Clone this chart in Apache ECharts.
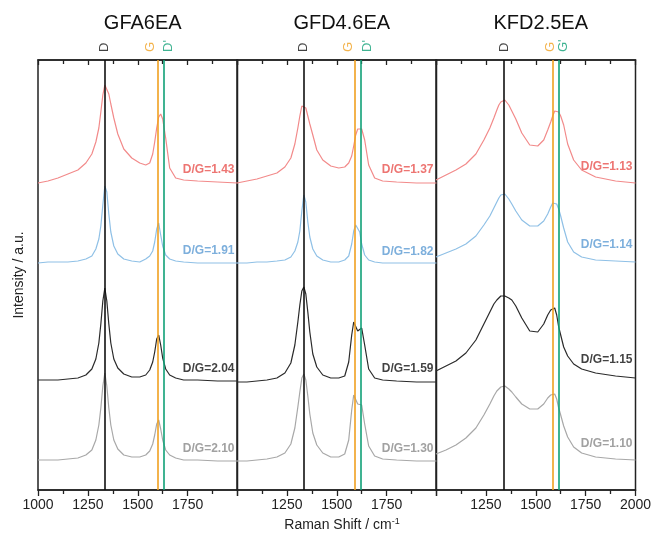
<!DOCTYPE html>
<html>
<head>
<meta charset="utf-8">
<script src="https://cdn.jsdelivr.net/npm/echarts@6/dist/echarts.min.js"></script>
<style>
  html, body { margin: 0; padding: 0; background: #fff; }
  #main { width: 655px; height: 540px; }
</style>
</head>
<body>
<div id="main"></div>
<script>
// Raman spectra, three samples stacked with offsets
var samples = ['GFA6EA', 'GFD4.6EA', 'KFD2.5EA'];

var shift = [1000, 1050, 1100, 1150, 1200, 1240, 1270, 1290, 1305, 1315, 1325, 1335, 1345, 1355, 1365, 1380, 1400, 1430, 1470, 1510,
             1540, 1560, 1575, 1585, 1595, 1605, 1615, 1625, 1640, 1660, 1690, 1730, 1800, 1900, 2000];

// GFA6EA
var gfa6ea_red   = [307, 309, 312, 316, 320, 327, 336, 348, 362, 378, 395, 405, 404, 396, 386, 372, 356, 341, 332, 327,
                    325, 327, 336, 348, 362, 373, 376, 371, 352, 322, 312, 310, 309, 308, 307];
var gfa6ea_blue  = [227, 228, 228, 228, 229, 231, 234, 241, 251, 264, 285, 304, 298, 276, 258, 244, 236, 231, 229, 228,
                    231, 234, 239, 248, 261, 267, 255, 244, 235, 231, 229, 228, 227, 227, 227];
var gfa6ea_black = [110, 110, 110, 111, 112, 115, 121, 131, 147, 166, 189, 202, 189, 166, 147, 131, 122, 116, 113, 113,
                    115, 120, 128, 138, 151, 155, 145, 132, 121, 115, 112, 110, 110, 109, 109];
var gfa6ea_gray  = [30, 30, 30, 31, 32, 35, 40, 50, 65, 82, 104, 117, 104, 82, 65, 50, 41, 35, 33, 33,
                    35, 39, 46, 55, 66, 70, 61, 50, 40, 35, 32, 30, 30, 29, 29];

// GFD4.6EA
var gfd46ea_red   = [307, 309, 311, 314, 317, 323, 332, 346, 362, 374, 384, 386, 382, 374, 366, 355, 340, 330, 324, 322,
                     323, 327, 334, 344, 355, 361, 363, 361, 350, 325, 312, 309, 308, 307, 307];
var gfd46ea_blue  = [227, 227, 228, 228, 229, 230, 233, 239, 248, 259, 279, 295, 288, 268, 253, 241, 234, 230, 228, 228,
                     230, 234, 246, 259, 265, 264, 258, 246, 235, 230, 228, 227, 227, 227, 227];
var gfd46ea_black = [108, 108, 109, 110, 112, 117, 127, 145, 168, 185, 199, 203, 196, 178, 158, 136, 123, 115, 112, 112,
                     114, 128, 155, 168, 166, 159, 161, 162, 145, 121, 112, 110, 109, 108, 108];
var gfd46ea_gray  = [29, 29, 30, 31, 33, 37, 46, 62, 83, 98, 112, 116, 110, 94, 76, 57, 45, 37, 33, 33,
                     36, 50, 80, 95, 93, 86, 86, 85, 66, 44, 34, 31, 30, 29, 29];

// KFD2.5EA
var kfd25ea_red   = [310, 315, 320, 326, 336, 350, 362, 372, 380, 385, 388, 390, 390, 388, 385, 379, 371, 357, 345, 344,
                     350, 360, 368, 374, 379, 380, 378, 374, 365, 346, 330, 320, 313, 309, 307];
var kfd25ea_blue  = [233, 237, 241, 246, 254, 265, 274, 282, 288, 292, 295, 297, 296, 294, 291, 286, 279, 270, 264, 264,
                     269, 276, 283, 287, 288, 286, 281, 274, 262, 248, 238, 233, 230, 229, 228];
var kfd25ea_black = [119, 124, 129, 137, 150, 166, 178, 186, 190, 192, 194, 194, 194, 193, 192, 190, 184, 172, 159, 158,
                     166, 175, 180, 182, 182, 175, 163, 155, 143, 134, 126, 121, 117, 114, 112];
var kfd25ea_gray  = [36, 40, 45, 52, 62, 75, 86, 94, 99, 101, 103, 104, 104, 103, 101, 98, 93, 86, 81, 81,
                     86, 92, 95, 97, 96, 91, 82, 75, 64, 53, 43, 37, 33, 31, 30];

var spectra = [
    [gfa6ea_red, gfa6ea_blue, gfa6ea_black, gfa6ea_gray],
    [gfd46ea_red, gfd46ea_blue, gfd46ea_black, gfd46ea_gray],
    [kfd25ea_red, kfd25ea_blue, kfd25ea_black, kfd25ea_gray]
];

// D/G ratios and where the label sits (intensity units)
var dgRatios = [
    ['1.43', '1.91', '2.04', '2.10'],
    ['1.37', '1.82', '1.59', '1.30'],
    ['1.13', '1.14', '1.15', '1.10']
];
var dgLabelY = [
    [320, 239, 121, 41],
    [320, 238, 121, 41],
    [323, 245, 130, 46]
];

// band positions (cm-1): D, G, D'/G'
var bandNames = [['D', 'G', "D'"], ['D', 'G', "D'"], ['D', 'G', "G'"]];
var bandPos = [[1335, 1600, 1630], [1335, 1588, 1622], [1342, 1586, 1617]];
// horizontal nudge of the band names, px (labels are rotated, so it goes in offset[1])
var bandNameShift = [[0, -7, 5], [0, -6, 6], [0, -2, 4]];

var lineColors  = ['#f28a8a', '#8fc0e6', '#2a2a2a', '#a8a8a8'];
var labelColors = ['#e8524f', '#5d9bd3', '#111111', '#8a8a8a'];
var bandColors  = ['#111111', '#f0a020', '#10a077'];

var FONT = 'Liberation Sans, Arial, sans-serif';
var panelLeft = [38, 237, 436];
var panelWidth = 199.5;

var chart = echarts.init(document.getElementById('main'));

var grids = [], xAxes = [], yAxes = [], series = [], titles = [];

for (var p = 0; p < 3; p++) {
    grids.push({
        left: panelLeft[p], width: panelWidth, top: 60, height: 430,
        show: true, borderColor: '#222', borderWidth: 1.5, backgroundColor: 'transparent'
    });

    // bottom axis
    xAxes.push({
        type: 'value', gridIndex: p, position: 'bottom',
        min: 1000, max: 2000, interval: 250,
        axisLine: { show: true, lineStyle: { color: '#222', width: 1.5 } },
        axisTick: { show: true, inside: false, length: 6, lineStyle: { color: '#222', width: 1.3 } },
        minorTick: { show: true, splitNumber: 2, length: 4, lineStyle: { color: '#222', width: 1.3 } },
        splitLine: { show: false },
        axisLabel: {
            color: '#222', fontSize: 14, fontFamily: FONT, margin: 8,
            showMinLabel: p === 0, showMaxLabel: p === 2,
            formatter: function (v) { return String(v); }
        }
    });
    // top mirror axis, ticks inside
    xAxes.push({
        type: 'value', gridIndex: p, position: 'top',
        min: 1000, max: 2000, interval: 250,
        axisLine: { show: true, lineStyle: { color: '#222', width: 1.5 } },
        axisTick: { show: true, inside: true, length: 5, lineStyle: { color: '#222', width: 1.3 } },
        minorTick: { show: true, splitNumber: 2, length: 4, lineStyle: { color: '#222', width: 1.3 } },
        splitLine: { show: false },
        axisLabel: { show: false }
    });

    yAxes.push({
        type: 'value', gridIndex: p, min: 0, max: 430,
        axisLine: { show: false }, axisTick: { show: false },
        axisLabel: { show: false }, splitLine: { show: false },
        name: p === 0 ? 'Intensity / a.u.' : '',
        nameLocation: 'middle', nameGap: 12, nameRotate: 90,
        nameTextStyle: { color: '#222', fontSize: 14, fontFamily: FONT }
    });

    titles.push({
        text: samples[p], left: panelLeft[p] + panelWidth / 2, top: 8, textAlign: 'center',
        textStyle: { color: '#111', fontSize: 20, fontWeight: 'normal', fontFamily: FONT }
    });

    // band reference lines
    series.push({
        type: 'line', xAxisIndex: p * 2, yAxisIndex: p, data: [], silent: true,
        markLine: {
            silent: true, symbol: 'none', label: { show: false }, animation: false,
            data: bandPos[p].map(function (v, k) {
                return { xAxis: v, lineStyle: { color: bandColors[k], width: 1.6, type: 'solid' } };
            })
        }
    });

    // spectra
    for (var c = 0; c < 4; c++) {
        var arr = spectra[p][c];
        series.push({
            type: 'line', xAxisIndex: p * 2, yAxisIndex: p, showSymbol: false, silent: true,
            smooth: false,
            lineStyle: { color: lineColors[c], width: 1.2 },
            data: shift.map(function (x, i) { return [x, arr[i]]; }),
            animation: false
        });
    }

    // D/G ratio labels
    series.push({
        type: 'scatter', xAxisIndex: p * 2, yAxisIndex: p, symbolSize: 0, silent: true, animation: false,
        data: dgRatios[p].map(function (r, c) {
            return {
                value: [1985, dgLabelY[p][c]],
                label: {
                    show: true, position: 'left', distance: 0, formatter: 'D/G=' + r,
                    color: labelColors[c], fontSize: 12, fontWeight: 'bold', fontFamily: FONT
                }
            };
        })
    });

    // band names above the frame
    series.push({
        type: 'scatter', xAxisIndex: p * 2, yAxisIndex: p, symbolSize: 0, silent: true, animation: false,
        data: bandPos[p].map(function (v, k) {
            return {
                value: [v, 430],
                label: {
                    show: true, position: 'top', distance: 8, rotate: 90,
                    align: 'left', verticalAlign: 'middle',
                    offset: [0, bandNameShift[p][k]],
                    formatter: bandNames[p][k],
                    color: bandColors[k], fontSize: 13, fontFamily: FONT
                }
            };
        })
    });
}

titles.push({
    text: 'Raman Shift / cm{sup|-1}', left: 337, top: 512, textAlign: 'center',
    textStyle: {
        color: '#222', fontSize: 14, fontWeight: 'normal', fontFamily: FONT,
        rich: { sup: { fontSize: 9, fontFamily: FONT, color: '#222', verticalAlign: 'top', padding: [0, 0, 8, 0] } }
    }
});

chart.setOption({
    backgroundColor: '#fff',
    animation: false,
    title: titles,
    grid: grids,
    xAxis: xAxes,
    yAxis: yAxes,
    series: series
});
</script>
</body>
</html>
